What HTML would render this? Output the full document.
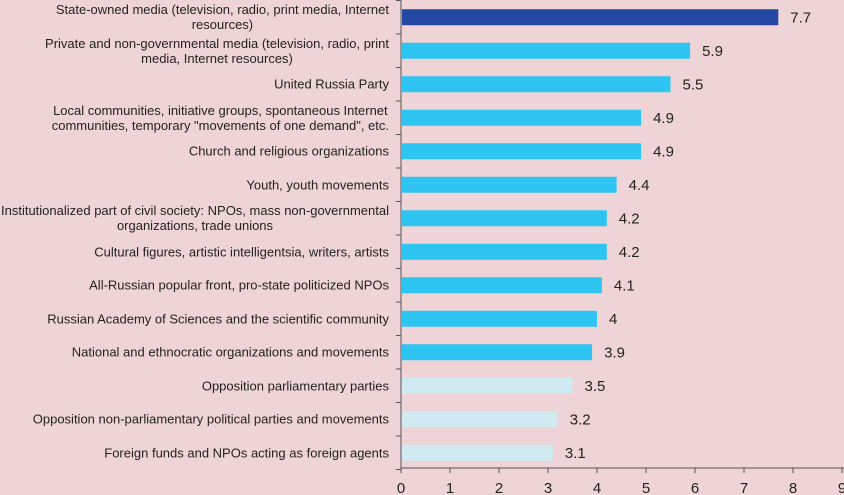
<!DOCTYPE html>
<html><head><meta charset="utf-8">
<style>
html,body{margin:0;padding:0;}
body{width:844px;height:495px;background:#efd4d7;position:relative;overflow:hidden;font-family:"Liberation Sans",sans-serif;color:#222;}
.lbl{position:absolute;right:455px;text-align:center;font-size:13px;line-height:15px;transform:translateY(-50%);white-space:nowrap;}
svg{position:absolute;left:0;top:0;}
</style></head>
<body>
<svg id="c" width="844" height="495"></svg>
<script>
const categories = [
 "State-owned media (television, radio, print media, Internet<br>resources)",
 "Private and non-governmental media (television, radio, print<br>media, Internet resources)",
 "United Russia Party",
 "Local communities, initiative groups, spontaneous Internet<br>communities, temporary \"movements of one demand\", etc.",
 "Church and religious organizations",
 "Youth, youth movements",
 "Institutionalized part of civil society: NPOs, mass non-governmental<br>organizations, trade unions",
 "Cultural figures, artistic intelligentsia, writers, artists",
 "All-Russian popular front, pro-state politicized NPOs",
 "Russian Academy of Sciences and the scientific community",
 "National and ethnocratic organizations and movements",
 "Opposition parliamentary parties",
 "Opposition non-parliamentary political parties and movements",
 "Foreign funds and NPOs acting as foreign agents"
];
const values = [7.7,5.9,5.5,4.9,4.9,4.4,4.2,4.2,4.1,4,3.9,3.5,3.2,3.1];
const group = [0,1,1,1,1,1,1,1,1,1,1,2,2,2];
const xTicks = [0,1,2,3,4,5,6,7,8,9];
const colors = ["#2549a3","#2ec5f2","#cfebf1"];
const X0=401, UNIT=49, plotTop=0.5, rowStep=33.5, axisY=468, barH=16;
const xs = v => X0 + v*UNIT;
const yc = i => plotTop + rowStep*i + rowStep/2;
const svg=document.getElementById('c');
const NS="http://www.w3.org/2000/svg";
function mk(t,a){const e=document.createElementNS(NS,t);for(const k in a)e.setAttribute(k,a[k]);svg.appendChild(e);return e;}
values.forEach((v,i)=>{
  const r=mk('rect',{x:X0+1,y:yc(i)-barH/2,width:xs(v)-X0-1,height:barH,fill:colors[group[i]]});
  
  
  const t=mk('text',{x:xs(v)+12,y:yc(i)+5,'font-size':15,fill:'#222','font-family':'Liberation Sans, sans-serif'});
  t.textContent=String(v);
  
  
  const d=document.createElement('div');
  d.className='lbl';d.style.top=yc(i)+'px';d.innerHTML=categories[i];
  
  
  document.body.appendChild(d);
});
const ya=mk('line',{x1:X0,y1:0,x2:X0,y2:axisY,stroke:'#555','stroke-width':1});


for(let i=0;i<=categories.length;i++){
  mk('line',{x1:X0-5,y1:plotTop+rowStep*i,x2:X0,y2:plotTop+rowStep*i,stroke:'#555','stroke-width':1});
}
const xa=mk('line',{x1:X0,y1:axisY,x2:844,y2:axisY,stroke:'#555','stroke-width':1});


xTicks.forEach(v=>{
  mk('line',{x1:xs(v),y1:axisY,x2:xs(v),y2:axisY+5,stroke:'#555','stroke-width':1});
  const t=mk('text',{x:xs(v),y:axisY+25,'font-size':15,'text-anchor':'middle',fill:'#222','font-family':'Liberation Sans, sans-serif'});
  t.textContent=String(v);
  
  
});
</script>
</body></html>
